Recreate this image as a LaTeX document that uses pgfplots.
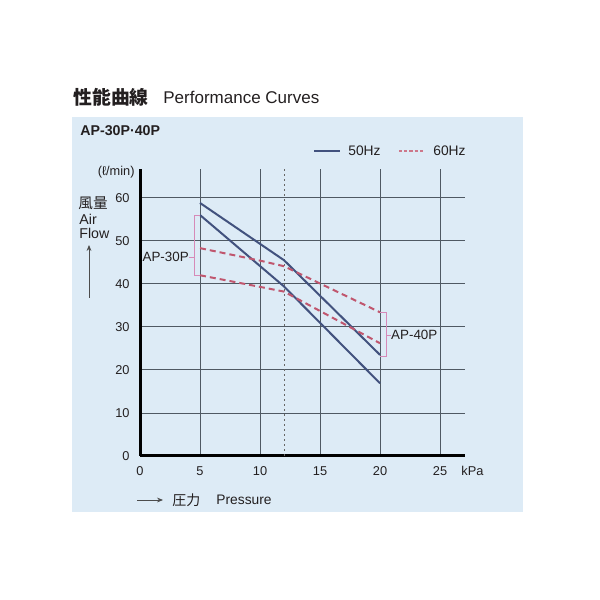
\documentclass[border=0pt]{standalone}
\usepackage{pgfplots}
\pgfplotsset{compat=1.18}
\usepackage{fontspec}
\setmainfont{Liberation Sans}
\newfontfamily\cjk{Noto Sans CJK JP}
\usetikzlibrary{arrows.meta}
\definecolor{panel}{HTML}{DDEBF6}
\definecolor{blueline}{HTML}{42527E}
\definecolor{redline}{HTML}{C0566E}
\definecolor{brk}{HTML}{D68AB8}
\definecolor{gridc}{HTML}{4F5963}
\definecolor{txt}{HTML}{231F20}
\begin{document}
\begin{tikzpicture}
\path (0,0) rectangle (300pt,300pt);
\begin{scope}[x=0.5pt,y=-0.5pt,shift={(0pt,300pt)}]
\fill[panel] (72,117) rectangle (523,512);
\node[anchor=west,inner sep=0pt,text=txt] at (73,97) {\fontsize{9.4}{11}\cjk\bfseries 性能曲線};
\node[anchor=west,inner sep=0pt,text=txt] at (163,97) {\fontsize{8.5}{10}\selectfont Performance Curves};
\node[anchor=west,inner sep=0pt,text=txt] at (80,131) {\fontsize{7.1}{9}\selectfont\bfseries AP-30P·40P};
\draw[blueline,line width=0.9pt] (314,151) -- (340,151);
\node[anchor=west,inner sep=0pt,text=txt] at (348,151) {\fontsize{6.9}{8}\selectfont 50Hz};
\draw[redline!80,line width=0.7pt,dash pattern=on 1.6pt off 1pt] (399,151) -- (424,151);
\node[anchor=west,inner sep=0pt,text=txt] at (433,151) {\fontsize{6.9}{8}\selectfont 60Hz};
\node[anchor=east,inner sep=0pt,text=txt] at (135,172) {\fontsize{6.4}{8}\selectfont (ℓ/min)};
\node[anchor=west,inner sep=0pt,text=txt] at (78,203) {\fontsize{7.3}{8}\cjk 風量};
\node[anchor=west,inner sep=0pt,text=txt] at (79,219) {\fontsize{7.1}{8}\selectfont Air};
\node[anchor=west,inner sep=0pt,text=txt] at (79,233) {\fontsize{7.1}{8}\selectfont Flow};
\draw[-{Stealth[length=3pt,width=2.4pt]},gray!60!black,line width=0.4pt] (89,298) -- (89,245);
\draw[-{Stealth[length=3pt,width=2.4pt]},gray!60!black,line width=0.4pt] (137,500) -- (163,500);
\node[anchor=west,inner sep=0pt,text=txt] at (172,500) {\fontsize{7}{8}\cjk 圧力};
\node[anchor=west,inner sep=0pt,text=txt] at (216,500) {\fontsize{6.9}{8}\selectfont Pressure};
\node[anchor=west,inner sep=0pt,text=txt] at (461,471) {\fontsize{6.4}{8}\selectfont kPa};
\end{scope}
\begin{axis}[at={(70pt,72pt)}, anchor=south west, scale only axis,
  width=162.6pt, height=143.3pt,
  xmin=0, xmax=27.1, ymin=0, ymax=66.6,
  axis lines=left, axis line style={-, line width=1.5pt, black},
  xtick={0,5,...,25}, ytick={0,10,...,60},
  grid=major, major grid style={line width=0.45pt, color=gridc},
  major tick length=0pt,
  tick label style={font=\fontsize{6.4}{7}\selectfont, text=txt},
  xticklabel style={anchor=north, inner sep=0pt, yshift=-5pt},
  yticklabel style={anchor=east, inner sep=0pt, xshift=-5pt},
  /pgf/number format/assume math mode=true,
  clip=false]
\addplot[gray!80!black, line width=0.5pt, dash pattern=on 1pt off 1.5pt] coordinates {(12,0) (12,66.6)};
\addplot[blueline, line width=1pt] coordinates {(5,58.8) (12,45.5) (20,23.5)};
\addplot[blueline, line width=1pt] coordinates {(5,56.0) (12,39.4) (20,16.9)};
\addplot[redline, line width=1pt, dash pattern=on 3pt off 2pt] coordinates {(5,48.3) (10,45.4) (12,44.1) (20,33.4)};
\addplot[redline, line width=1pt, dash pattern=on 3pt off 2pt] coordinates {(5,42.0) (10,39.3) (12,38.2) (20,26.2)};
\draw[brk, line width=0.5pt] (axis cs:5,56.0) -- (axis cs:4.5,56.0) -- (axis cs:4.5,42.0) -- (axis cs:5,42.0);
\draw[brk, line width=0.5pt] (axis cs:4.1,46.2) -- (axis cs:4.5,46.2);
\node[anchor=east, inner sep=0pt, text=txt, font=\fontsize{6.7}{8}\selectfont] at (axis cs:4.1,46.2) {AP-30P};
\draw[brk, line width=0.5pt] (axis cs:20,33.4) -- (axis cs:20.5,33.4) -- (axis cs:20.5,23.2) -- (axis cs:20,23.2);
\draw[brk, line width=0.5pt] (axis cs:20.5,28.1) -- (axis cs:20.9,28.1);
\node[anchor=west, inner sep=0pt, text=txt, font=\fontsize{6.7}{8}\selectfont] at (axis cs:20.9,28.1) {AP-40P};
\end{axis}
\end{tikzpicture}
\end{document}
